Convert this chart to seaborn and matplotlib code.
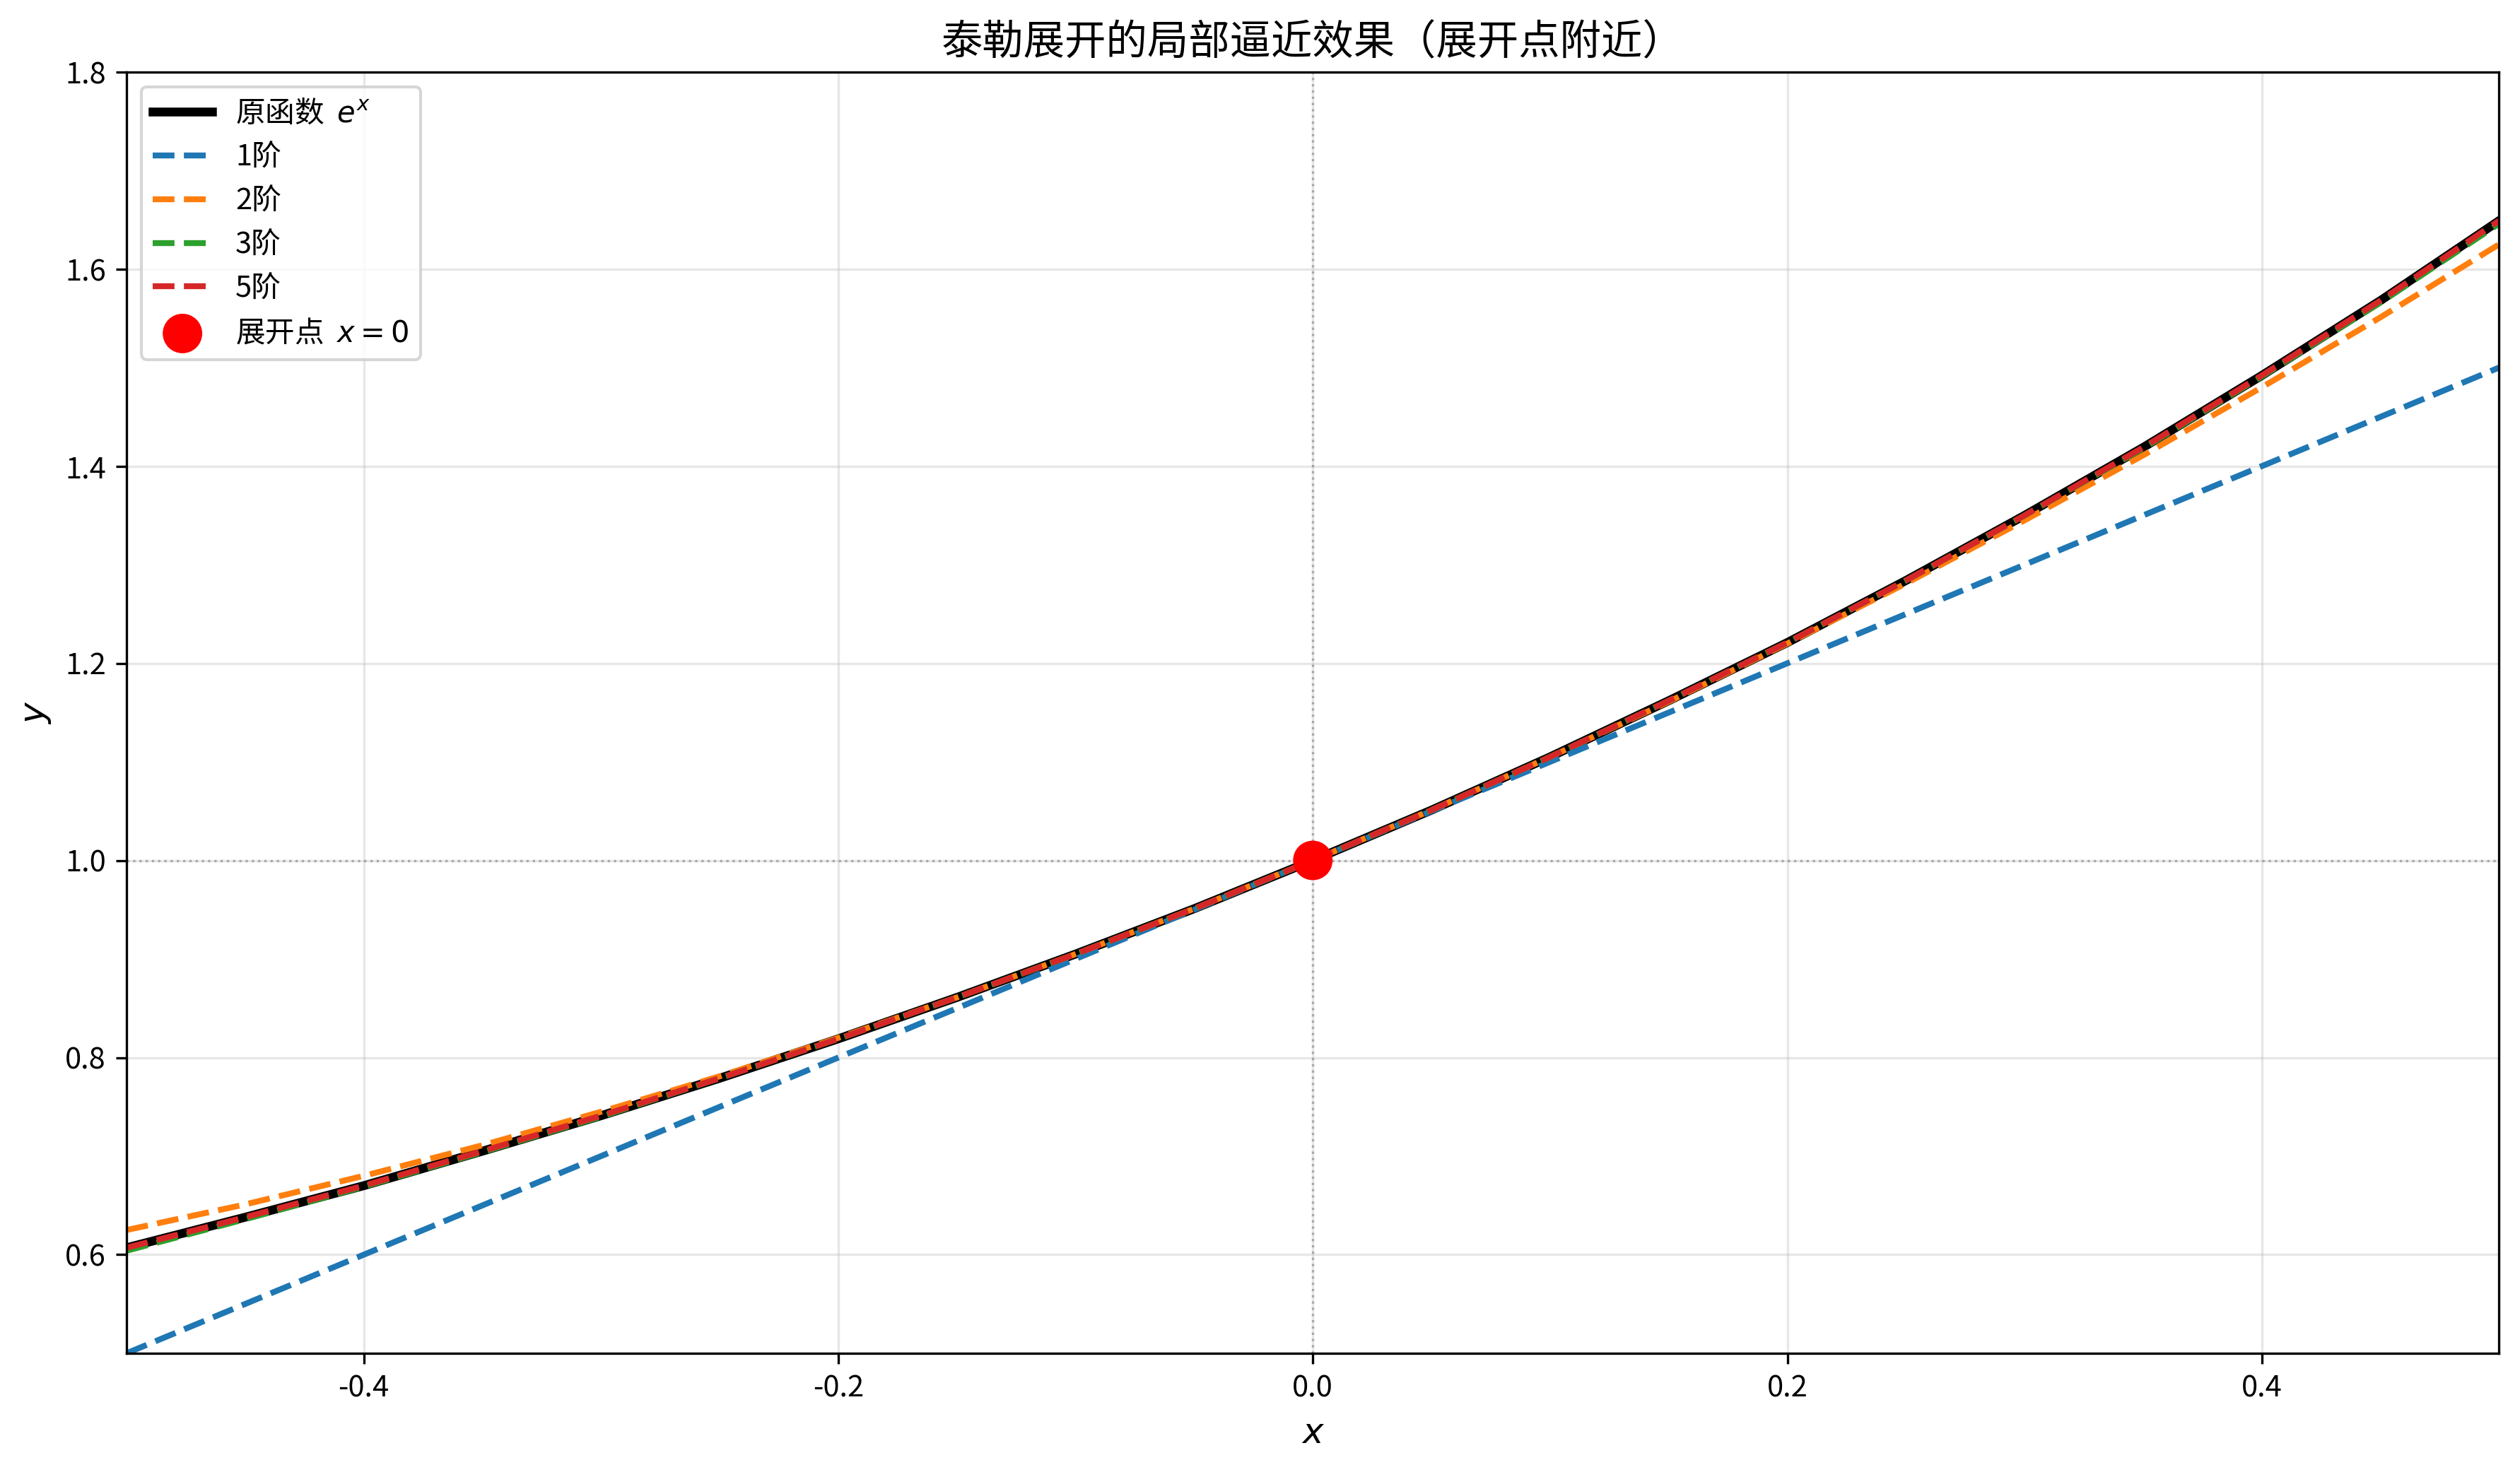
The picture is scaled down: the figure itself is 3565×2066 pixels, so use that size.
import numpy as np
import pandas as pd
import seaborn as sns
import matplotlib.pyplot as plt

# fonts for chinese text
plt.rcParams['font.family'] = ['Noto Sans CJK SC', 'DejaVu Sans']
plt.rcParams['axes.unicode_minus'] = False

# values, x step 0.05
x_vals = [-0.50, -0.45, -0.40, -0.35, -0.30, -0.25, -0.20, -0.15, -0.10, -0.05, 0.00,
          0.05, 0.10, 0.15, 0.20, 0.25, 0.30, 0.35, 0.40, 0.45, 0.50]
exp_vals = [0.607, 0.638, 0.670, 0.705, 0.741, 0.779, 0.819, 0.861, 0.905, 0.951, 1.000,
            1.051, 1.105, 1.162, 1.221, 1.284, 1.350, 1.419, 1.492, 1.568, 1.649]
order1 = [0.50, 0.55, 0.60, 0.65, 0.70, 0.75, 0.80, 0.85, 0.90, 0.95, 1.00,
          1.05, 1.10, 1.15, 1.20, 1.25, 1.30, 1.35, 1.40, 1.45, 1.50]
order2 = [0.625, 0.651, 0.680, 0.711, 0.745, 0.781, 0.820, 0.861, 0.905, 0.951, 1.000,
          1.051, 1.105, 1.161, 1.220, 1.281, 1.345, 1.411, 1.480, 1.551, 1.625]
order3 = [0.604, 0.636, 0.669, 0.704, 0.740, 0.779, 0.819, 0.861, 0.905, 0.951, 1.000,
          1.051, 1.105, 1.162, 1.221, 1.284, 1.350, 1.418, 1.491, 1.566, 1.646]
order5 = [0.607, 0.638, 0.670, 0.705, 0.741, 0.779, 0.819, 0.861, 0.905, 0.951, 1.000,
          1.051, 1.105, 1.162, 1.221, 1.284, 1.350, 1.419, 1.492, 1.568, 1.649]
orders = ['1阶', '2阶', '3阶', '5阶']
order_vals = [order1, order2, order3, order5]
order_colors = ['#1f77b4', '#ff7f0e', '#2ca02c', '#d62728']
x0 = [0.0]
y0 = [1.0]

fig, ax = plt.subplots(figsize=(3565.4 / 300, 2066.4 / 300))
fig.subplots_adjust(left=0.0502, right=0.9916, top=0.9506, bottom=0.0731)

# original function
sns.lineplot(x=x_vals, y=exp_vals, color='black', linewidth=3, label='原函数  $e^x$', ax=ax)

# taylor approximations
for name, vals, c in zip(orders, order_vals, order_colors):
    sns.lineplot(x=x_vals, y=vals, color=c, linewidth=2, linestyle='--', label=name, ax=ax)

# expansion point
sns.scatterplot(x=x0, y=y0, color='red', s=180, edgecolor='none', zorder=5,
                label='展开点  $x=0$', ax=ax)

ax.axhline(1.0, color='gray', linestyle=':', linewidth=0.8, alpha=0.6)
ax.axvline(0.0, color='gray', linestyle=':', linewidth=0.8, alpha=0.6)

ax.set_xlim(-0.5, 0.5)
ax.set_ylim(0.5, 1.8)
ax.set_xlabel('$x$', fontsize=12)
ax.set_ylabel('$y$', fontsize=12)
ax.set_title('泰勒展开的局部逼近效果（展开点附近）', fontsize=14)
ax.grid(True, alpha=0.3)
ax.legend(loc='upper left', fontsize=10)

plt.savefig('out.png', dpi=300)
